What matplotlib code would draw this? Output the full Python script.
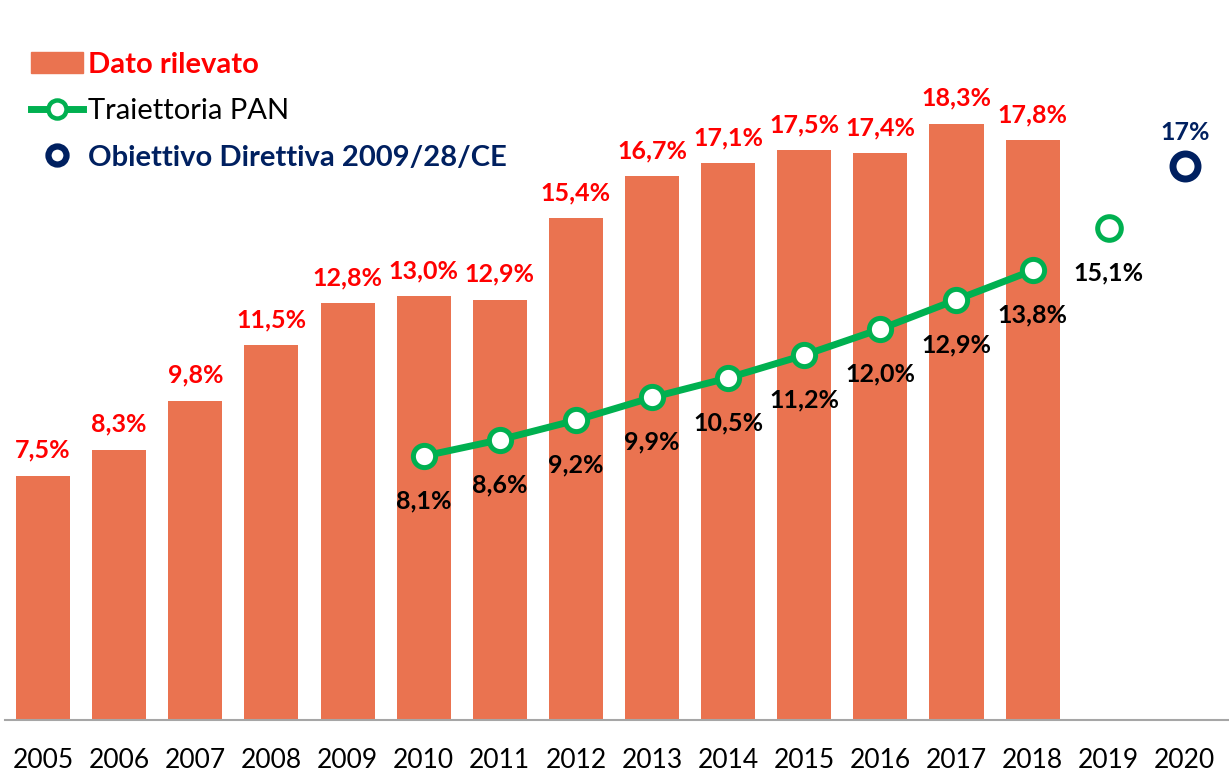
import matplotlib.pyplot as plt
from matplotlib.patches import Patch
from matplotlib.lines import Line2D
import numpy as np

# Data
years = ['2005', '2006', '2007', '2008', '2009', '2010', '2011', '2012',
         '2013', '2014', '2015', '2016', '2017', '2018', '2019', '2020']
rilevato = [7.5, 8.3, 9.8, 11.5, 12.8, 13.0, 12.9, 15.4, 16.7, 17.1, 17.5, 17.4, 18.3, 17.8]
pan_years = ['2010', '2011', '2012', '2013', '2014', '2015', '2016', '2017', '2018']
pan = [8.1, 8.6, 9.2, 9.9, 10.5, 11.2, 12.0, 12.9, 13.8]
pan_2019 = 15.1
obiettivo_2020 = 17

ORANGE = '#EA7350'
GREEN = '#00B050'
NAVY = '#002060'
RED = '#FF0000'

plt.rcParams['font.family'] = ['Lato', 'DejaVu Sans']

fig = plt.figure(figsize=(12.29, 7.72), dpi=100)
ax = fig.add_axes([5 / 1229, 52 / 772, 1 - 5 / 1229, 720 / 772])

x = np.arange(len(years))
xr = x[:len(rilevato)]
ax.bar(xr, rilevato, width=0.71, color=ORANGE, zorder=2)
for xi, v in zip(xr, rilevato):
    ax.annotate(f'{v:.1f}%'.replace('.', ','), (xi, v), xytext=(0, 10),
                textcoords='offset points', ha='center', va='bottom',
                color=RED, fontsize=18, fontweight='bold')

xp = [years.index(y) for y in pan_years]
ax.plot(xp, pan, color=GREEN, lw=5, marker='o', ms=16, mfc='white',
        mec=GREEN, mew=3.6, zorder=3, solid_capstyle='round')
x19 = years.index('2019')
ax.plot([x19], [pan_2019], ls='none', marker='o', ms=17, mfc='white',
        mec=GREEN, mew=3.6, zorder=3)
for xi, v in zip(xp + [x19], pan + [pan_2019]):
    ax.annotate(f'{v:.1f}%'.replace('.', ','), (xi, v), xytext=(0, -24),
                textcoords='offset points', ha='center', va='top',
                color='black', fontsize=18, fontweight='bold')

x20 = years.index('2020')
ax.plot([x20], [obiettivo_2020], ls='none', marker='o', ms=18, mfc='white',
        mec=NAVY, mew=5, zorder=3)
ax.annotate(f'{obiettivo_2020}%', (x20, obiettivo_2020), xytext=(0, 16),
            textcoords='offset points', ha='center', va='bottom',
            color=NAVY, fontsize=18, fontweight='bold')

ax.set_xlim(-0.5, 15.58)
ax.set_ylim(0, 22.1)
ax.set_xticks(x)
ax.set_xticklabels(years, fontsize=19)
ax.tick_params(axis='x', length=0, pad=20)
ax.set_yticks([])
for s in ['top', 'right', 'left']:
    ax.spines[s].set_visible(False)
ax.spines['bottom'].set_color('#A6A6A6')
ax.spines['bottom'].set_linewidth(1.5)

handles = [
    Patch(color=ORANGE),
    Line2D([0], [0], color=GREEN, lw=5, marker='o', ms=13, mfc='white', mec=GREEN, mew=3.2),
    Line2D([0], [0], ls='none', marker='o', ms=13, mfc='white', mec=NAVY, mew=4.5),
]
labels = ['Dato rilevato', 'Traiettoria PAN', 'Obiettivo Direttiva 2009/28/CE']
leg = ax.legend(handles, labels, loc='upper left', bbox_to_anchor=(0.0115, 0.944),
                frameon=False, fontsize=21, handlelength=1.8, handleheight=0.75,
                handletextpad=0.15, labelspacing=0.7, borderaxespad=0)
texts = leg.get_texts()
texts[0].set_color(RED)
texts[0].set_fontweight('bold')
texts[1].set_color('black')
texts[2].set_color(NAVY)
texts[2].set_fontweight('bold')

fig.savefig('out.png', dpi=100)
